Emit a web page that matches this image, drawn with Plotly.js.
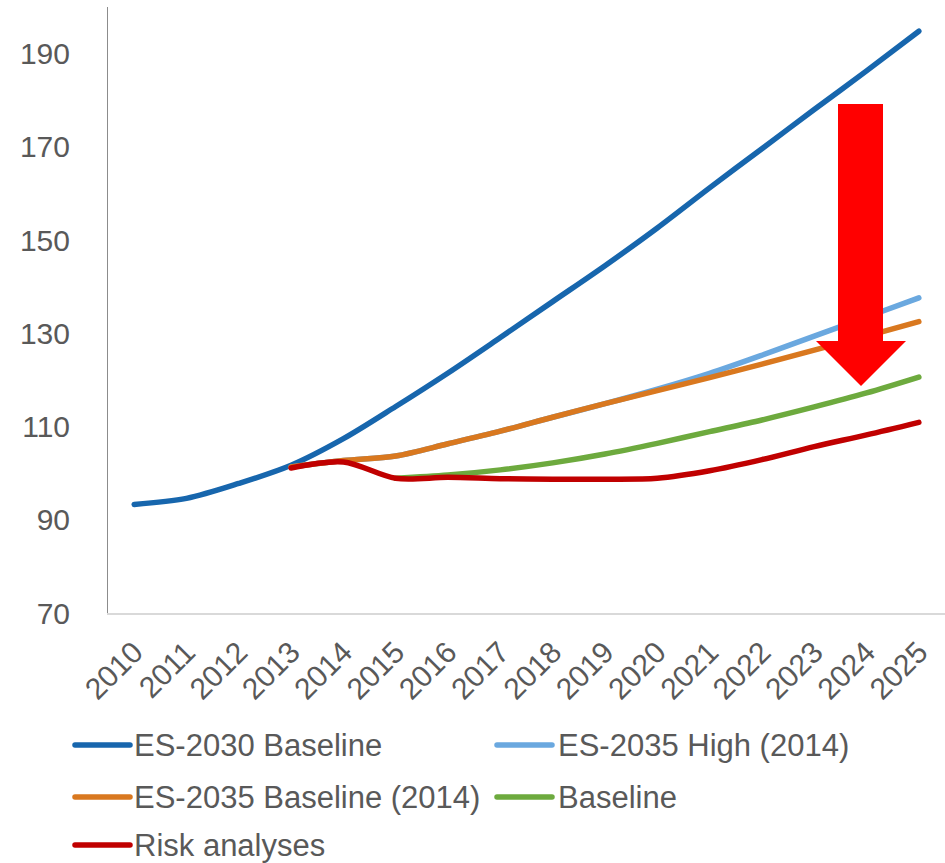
<!DOCTYPE html>
<html>
<head>
<meta charset="utf-8">
<script src="https://cdn.plot.ly/plotly-3.0.1.min.js"></script>
<style>
  html, body { margin: 0; padding: 0; background: #fff; }
  #chart { width: 945px; height: 863px; }
  .scatterlayer path.js-line { stroke-linecap: round; stroke-linejoin: round; }
  .shapelayer path { stroke-linecap: round; }
</style>
</head>
<body>
<div id="chart"></div>
<script>
// Years on the category axis
const years = ['2010','2011','2012','2013','2014','2015','2016','2017',
               '2018','2019','2020','2021','2022','2023','2024','2025'];

// Forecast series (index values)
const es2030Baseline = [93.3, 94.6, 97.8, 101.7, 107.4, 114.3, 121.5, 129.1,
                        136.8, 144.5, 152.6, 161.2, 169.6, 178.0, 186.3, 194.8];
const es2035High = [null, null, null, 101.3, 102.7, 103.7, 106.3, 109.0,
                    112.0, 114.9, 118.0, 121.4, 125.3, 129.4, 133.5, 137.6];
const es2035Baseline = [null, null, null, 101.3, 102.7, 103.7, 106.3, 109.0,
                        112.0, 114.9, 117.7, 120.5, 123.4, 126.4, 129.4, 132.5];
const baseline = [null, null, null, null, null, 98.9, 99.6, 100.7,
                  102.2, 104.1, 106.4, 108.9, 111.4, 114.2, 117.2, 120.6];
const riskAnalyses = [null, null, null, 101.1, 102.4, 98.9, 99.1, 98.8,
                      98.7, 98.7, 98.9, 100.5, 102.9, 105.7, 108.2, 110.9];

const seriesNames = ['ES-2030 Baseline', 'ES-2035 High (2014)',
                     'ES-2035 Baseline (2014)', 'Baseline', 'Risk analyses'];
const seriesColors = ['#1766AD', '#6AA8DF', '#D9781F', '#6DAA3E', '#C00000'];
const seriesValues = [es2030Baseline, es2035High, es2035Baseline, baseline, riskAnalyses];

const yTicks = [70, 90, 110, 130, 150, 170, 190];

const FONT = '"Liberation Sans", Arial, sans-serif';
const TEXT = '#595959';

const traces = seriesValues.map((vals, i) => ({
  type: 'scatter',
  mode: 'lines',
  x: years,
  y: vals,
  name: seriesNames[i],
  connectgaps: false,
  line: { color: seriesColors[i], width: 5.5, shape: 'spline', smoothing: 0.9 },
  hoverinfo: 'x+y+name',
  showlegend: false
}));

// Plot-area geometry in pixels, used to place the legend below the axis
const M = { l: 108, r: 0, t: 7, b: 250 };
const W = 945, H = 863;
const pw = W - M.l - M.r, ph = H - M.t - M.b;
const px = x => (x - M.l) / pw;
const py = y => (H - M.b - y) / ph;

// Two-column legend drawn with line shapes and text annotations
const legendSlots = [
  { lx: 75, tx: 133, y: 745 },
  { lx: 497, tx: 557, y: 745 },
  { lx: 75, tx: 133, y: 797 },
  { lx: 497, tx: 557, y: 797 },
  { lx: 75, tx: 133, y: 845 }
];
const legendShapes = legendSlots.map((s, i) => ({
  type: 'line', xref: 'paper', yref: 'paper',
  x0: px(s.lx), x1: px(s.lx + 55), y0: py(s.y), y1: py(s.y),
  line: { color: seriesColors[i], width: 5.5 }
}));
const legendLabels = legendSlots.map((s, i) => ({
  xref: 'paper', yref: 'paper', x: px(s.tx), y: py(s.y),
  xanchor: 'left', yanchor: 'middle', showarrow: false,
  text: seriesNames[i], borderpad: 0,
  font: { family: FONT, size: 31, color: TEXT }
}));

// Downward arrow marking the revision of the forecasts
const arrow = {
  type: 'path', xref: 'paper', yref: 'paper',
  path: 'M ' + px(838) + ',' + py(104) +
        ' L ' + px(883) + ',' + py(104) +
        ' L ' + px(883) + ',' + py(341) +
        ' L ' + px(906) + ',' + py(341) +
        ' L ' + px(861) + ',' + py(386) +
        ' L ' + px(816) + ',' + py(341) +
        ' L ' + px(838) + ',' + py(341) + ' Z',
  fillcolor: '#FF0000', line: { width: 0 }, layer: 'above'
};

const layout = {
  width: W, height: H,
  margin: M,
  paper_bgcolor: '#ffffff',
  plot_bgcolor: '#ffffff',
  showlegend: false,
  font: { family: FONT, color: TEXT },
  xaxis: {
    type: 'category',
    range: [-0.5, years.length - 0.5],
    showgrid: false, zeroline: false,
    showline: true, linecolor: '#D9D9D9', linewidth: 1.5,
    ticks: '', tickangle: -45,
    tickfont: { family: FONT, size: 30, color: TEXT },
    ticklabelstandoff: 8,
    fixedrange: true
  },
  yaxis: {
    range: [70, 200],
    tickvals: yTicks,
    ticktext: yTicks.map(String),
    showgrid: false, zeroline: false,
    showline: true, linecolor: '#8C8C8C', linewidth: 1,
    ticks: '',
    tickfont: { family: FONT, size: 30, color: TEXT },
    ticklabelstandoff: 31,
    fixedrange: true
  },
  shapes: [arrow].concat(legendShapes),
  annotations: legendLabels
};

Plotly.newPlot('chart', traces, layout, { displayModeBar: false, staticPlot: true });
</script>
</body>
</html>
